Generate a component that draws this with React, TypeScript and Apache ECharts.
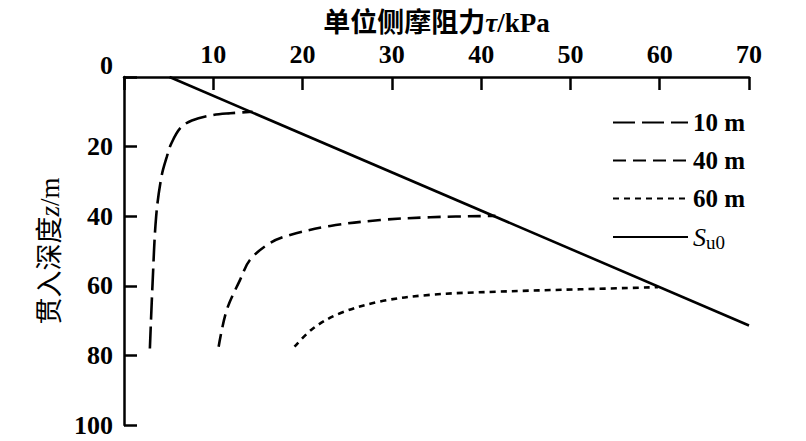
import React, { useEffect, useRef } from "react";
import * as echarts from "echarts";

// τ (kPa) vs depth z (m)
const tauTicks = [0, 10, 20, 30, 40, 50, 60, 70];
const depthTicks = [0, 20, 40, 60, 80, 100];

const curve10m: [number, number][] = [
  [2.9, 78], [3.2, 59.3], [3.6, 40.1], [4.2, 28.6], [4.8, 22.9], [5.3, 19.1],
  [6.3, 14.7], [7.6, 12.5], [10.0, 10.9], [11.9, 10.4], [14.4, 10.0],
];
const curve40m: [number, number][] = [
  [10.6, 77.5], [11.5, 67], [13.0, 58.3], [14.1, 52.6], [16.3, 47.8], [18.6, 45.4],
  [23.1, 42.8], [28.7, 41.1], [34.3, 40.3], [41.6, 39.9],
];
const curve60m: [number, number][] = [
  [19.1, 77.5], [21.2, 72.2], [24.2, 67.9], [28.7, 64.5], [34.3, 62.6],
  [41.7, 61.7], [51.1, 61.0], [59.8, 60.4],
];
const su0Line: [number, number][] = [[5.1, 0], [70, 71.4]];

const seriesNames = ["10 m", "40 m", "60 m", "Su0"];

const FONT = "'Liberation Serif', 'Noto Sans CJK SC', serif";

export default function App() {
  const ref = useRef<HTMLDivElement>(null);
  useEffect(() => {
    if (!ref.current) return;
    const chart = echarts.init(ref.current, null, { renderer: "svg" });
    const lw = 2.6;
    const mk = (name: string, data: [number, number][], dash: any) => ({
      name,
      type: "line",
      data,
      symbol: "none",
      showSymbol: false,
      smooth: 0.35,
      lineStyle: { color: "#000", width: lw, type: dash },
      itemStyle: { color: "#000" },
    });
    chart.setOption({
      animation: false,
      backgroundColor: "#fff",
      grid: { left: 124, top: 77, width: 625, height: 348 },
      xAxis: {
        type: "value",
        position: "top",
        min: tauTicks[0],
        max: tauTicks[tauTicks.length - 1],
        interval: 10,
        name: "单位侧摩阻力{i|τ}/kPa",
        nameLocation: "middle",
        nameGap: 41,
        nameTextStyle: {
          fontFamily: FONT,
          fontSize: 27,
          fontWeight: "bold",
          color: "#000",
          rich: {
            i: { fontFamily: FONT, fontStyle: "italic", fontSize: 27, color: "#000" },
          },
        },
        axisLine: { show: true, lineStyle: { color: "#000", width: 2.5 } },
        axisTick: { show: true, inside: true, length: 13, lineStyle: { color: "#000", width: 2.5 } },
        axisLabel: {
          margin: 10,
          fontFamily: FONT,
          fontSize: 26,
          fontWeight: "bold",
          color: "#000",
          formatter: (v: number) => (v === 0 ? "" : String(v)),
        },
        splitLine: { show: false },
      },
      yAxis: {
        type: "value",
        inverse: true,
        min: depthTicks[0],
        max: depthTicks[depthTicks.length - 1],
        interval: 20,
        name: "贯入深度{i|z}/m",
        nameLocation: "middle",
        nameGap: 51,
        nameTextStyle: {
          fontFamily: FONT,
          fontSize: 27,
          color: "#000",
          rich: {
            i: { fontFamily: FONT, fontStyle: "italic", fontSize: 27, color: "#000" },
          },
        },
        axisLine: { show: true, lineStyle: { color: "#000", width: 2.5 } },
        axisTick: { show: true, inside: true, length: 13, lineStyle: { color: "#000", width: 2.5 } },
        axisLabel: {
          margin: 11,
          fontFamily: FONT,
          fontSize: 26,
          fontWeight: "bold",
          color: "#000",
          formatter: (v: number) => (v === 0 ? "{o|0}" : String(v)),
          rich: {
            o: { fontFamily: FONT, fontSize: 26, fontWeight: "bold", color: "#000", padding: [0, 0, 24, 0] },
          },
        },
        splitLine: { show: false },
      },
      legend: {
        orient: "vertical",
        left: 607,
        top: 105,
        itemWidth: 75,
        itemHeight: 14,
        itemGap: 13,
        data: seriesNames,
        itemStyle: { opacity: 0 },
        formatter: (n: string) => (n === "Su0" ? "{s|S}{u|u0}" : n),
        textStyle: {
          fontFamily: FONT,
          fontSize: 25,
          fontWeight: "bold",
          color: "#000",
          rich: {
            s: { fontFamily: FONT, fontStyle: "italic", fontWeight: "normal", fontSize: 26, color: "#000" },
            u: { fontFamily: FONT, fontWeight: "normal", fontSize: 19, color: "#000", padding: [10, 0, 0, 0] },
          },
        },
      },
      series: [
        mk(seriesNames[0], curve10m, [22, 7]),
        mk(seriesNames[1], curve40m, [13, 7]),
        mk(seriesNames[2], curve60m, [6, 5]),
        mk(seriesNames[3], su0Line, "solid"),
      ],
    });
    return () => chart.dispose();
  }, []);
  return (
    <div
      ref={ref}
      style={{ position: "absolute", left: 0, top: 0, width: 806, height: 441, background: "#fff" }}
    />
  );
}
